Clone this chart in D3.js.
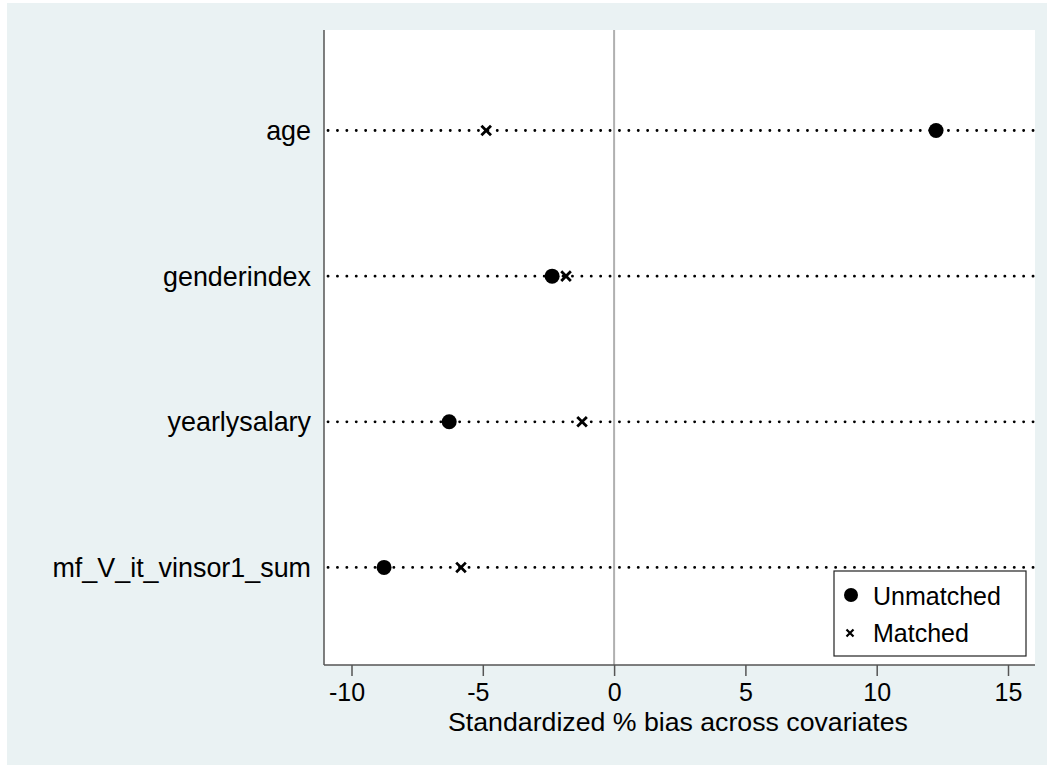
<!DOCTYPE html>
<html>
<head>
<meta charset="utf-8">
<script src="https://cdn.jsdelivr.net/npm/d3@7"></script>
<style>
  body { margin: 0; background: #fff; }
  text { font-family: Arial, "Liberation Sans", sans-serif; fill: #000; }
</style>
</head>
<body>
<svg id="chart"></svg>
<script>
// covariates, bottom to top
var covariates = ["mf_V_it_vinsor1_sum", "yearlysalary", "genderindex", "age"];
var unmatched = [-8.76, -6.28, -2.36, 12.26];
var matched = [-5.83, -1.22, -1.83, -4.87];
var xTicks = [-10, -5, 0, 5, 10, 15];

var W = 1054, H = 768;
var plot = {left: 324, right: 1035, top: 30, bottom: 665};

var svg = d3.select("#chart")
    .attr("width", W)
    .attr("height", H);

svg.append("rect")
    .attr("x", 7).attr("y", 3)
    .attr("width", 1040).attr("height", 762)
    .style("fill", "#eaf2f3");

svg.append("rect")
    .attr("x", plot.left).attr("y", plot.top)
    .attr("width", plot.right - plot.left).attr("height", plot.bottom - plot.top)
    .style("fill", "#fff");

var x = d3.scaleLinear()
    .domain([-10, 15])
    .range([351.5, 1008]);

var y = d3.scaleLinear()
    .domain([0.33, 4.69])
    .range([plot.bottom, plot.top]);

var rows = covariates.map(function(c, i) {
  return {name: c, pos: i + 1, u: unmatched[i], m: matched[i]};
});

// zero line
svg.append("line")
    .attr("x1", x(0)).attr("x2", x(0))
    .attr("y1", plot.top).attr("y2", plot.bottom)
    .style("stroke", "#b0b0b0")
    .style("stroke-width", 2);

// dotted guide lines
svg.selectAll(".guide")
    .data(rows)
  .enter().append("line")
    .attr("class", "guide")
    .attr("x1", plot.left + 4).attr("x2", plot.right)
    .attr("y1", function(d) { return y(d.pos); })
    .attr("y2", function(d) { return y(d.pos); })
    .style("stroke", "#000")
    .style("stroke-width", 2.8)
    .style("stroke-linecap", "round")
    .style("stroke-dasharray", "0.1,9.3");

// x axis
var xAxis = d3.axisBottom(x)
    .tickValues(xTicks)
    .tickSize(11)
    .tickPadding(7)
    .tickFormat(d3.format("d"));

var gx = svg.append("g")
    .attr("transform", "translate(0," + plot.bottom + ")")
    .call(xAxis);
gx.select(".domain").remove();
gx.append("line")
    .attr("x1", plot.left).attr("x2", plot.right)
    .style("stroke", "#555").style("stroke-width", 1.5);
gx.selectAll(".tick line").style("stroke", "#555").style("stroke-width", 1.5);
gx.selectAll(".tick text")
    .style("font-size", "25px")
    .style("font-family", "Arial, 'Liberation Sans', sans-serif")
    .attr("dx", function(d) { return d < 0 ? "-0.2em" : 0; })
    .text(function(d) { return d < 0 ? "-" + Math.abs(d) : d; });

svg.append("text")
    .attr("x", 678).attr("y", 731)
    .attr("text-anchor", "middle")
    .style("font-size", "26.7px")
    .text("Standardized % bias across covariates");

// y axis
svg.append("line")
    .attr("x1", plot.left).attr("x2", plot.left)
    .attr("y1", plot.top).attr("y2", plot.bottom)
    .style("stroke", "#555").style("stroke-width", 1.5);

svg.selectAll(".ylab")
    .data(rows)
  .enter().append("text")
    .attr("class", "ylab")
    .attr("x", plot.left - 13)
    .attr("y", function(d) { return y(d.pos); })
    .attr("dy", "0.35em")
    .attr("text-anchor", "end")
    .style("font-size", "26.9px")
    .text(function(d) { return d.name; });

// markers
function cross(g, cx, cy, s, w) {
  g.append("path")
    .attr("d", "M" + (cx - s) + "," + (cy - s) + "L" + (cx + s) + "," + (cy + s) +
               "M" + (cx - s) + "," + (cy + s) + "L" + (cx + s) + "," + (cy - s))
    .style("stroke", "#000").style("stroke-width", w).style("fill", "none");
}

svg.selectAll(".dot")
    .data(rows)
  .enter().append("circle")
    .attr("class", "dot")
    .attr("cx", function(d) { return x(d.u); })
    .attr("cy", function(d) { return y(d.pos); })
    .attr("r", 7.5)
    .style("fill", "#000");

rows.forEach(function(d) {
  cross(svg, x(d.m), y(d.pos), 4.8, 2.8);
});

// legend
var lg = svg.append("g");
lg.append("rect")
    .attr("x", 834).attr("y", 571)
    .attr("width", 192).attr("height", 85)
    .style("fill", "#fff").style("stroke", "#222").style("stroke-width", 1.2);
lg.append("circle").attr("cx", 851).attr("cy", 595).attr("r", 7).style("fill", "#000");
cross(lg, 850, 633, 3.5, 2.2);
lg.append("text").attr("x", 873).attr("y", 596).attr("dy", "0.35em")
    .style("font-size", "25px").text("Unmatched");
lg.append("text").attr("x", 873).attr("y", 633).attr("dy", "0.35em")
    .style("font-size", "25px").text("Matched");
</script>
</body>
</html>
